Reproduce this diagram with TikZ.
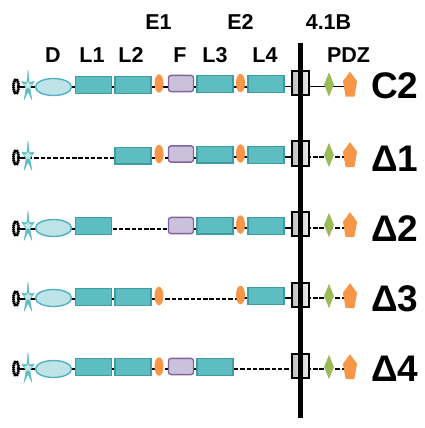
\documentclass[tikz,border=0pt]{standalone}
\usepackage{fontspec}
\setmainfont{Liberation Sans}
\usetikzlibrary{shapes.geometric}
\pgfdeclarelayer{bg}
\pgfsetlayers{bg,main}
\definecolor{teal1}{HTML}{5DBDC1}
\definecolor{teal2}{HTML}{3E9CA3}
\definecolor{oval}{HTML}{BEE4E8}
\definecolor{ovalb}{HTML}{4FB0C6}
\definecolor{orng}{HTML}{F79646}
\definecolor{purp}{HTML}{CCC1DA}
\definecolor{purpb}{HTML}{8064A2}
\definecolor{grn}{HTML}{9BBB59}
\newcommand{\cn}[4]{\begin{pgfonlayer}{bg}\draw[#1] (#2 |- #4) -- (#3 |- #4);\end{pgfonlayer}}
\tikzset{
 x=1pt,y=-1pt,
 lnk/.style={line width=1.5pt,black},
 dsh/.style={line width=1.5pt,black,dash pattern=on 4.4pt off 1.9pt},
 lbl/.style={font=\bfseries\fontsize{21.5}{22}\selectfont,inner sep=0pt,anchor=base},
 rowlbl/.style={font=\bfseries\fontsize{37}{37}\selectfont,inner sep=0pt,anchor=base west},
 gear/.style={ellipse,draw=black,line width=3pt,dash pattern=on 1.3pt off .7pt,fill=white,minimum width=5pt,minimum height=14pt,inner sep=0pt,postaction={draw,solid,line width=1.3pt}},
 spike/.style={star,star points=5,star point ratio=3.2,fill=teal1,draw=teal1,line width=.4pt,minimum size=26pt,inner sep=0pt,xscale=.5,yscale=1.25,transform shape},
 spikein/.style={star,star points=5,star point ratio=2,fill=teal1!35!white,minimum size=9pt,inner sep=0pt},
 dom/.style={ellipse,draw=ovalb,line width=1.4pt,fill=oval,minimum width=36pt,minimum height=17pt,inner sep=0pt},
 lrep/.style={rectangle,draw=teal2,line width=1.4pt,fill=teal1,minimum width=36pt,minimum height=16.6pt,inner sep=0pt},
 egf/.style={ellipse,fill=orng,minimum width=9pt,minimum height=18.5pt,inner sep=0pt},
 fn/.style={rectangle,rounded corners=2.5pt,draw=purpb,line width=1.4pt,fill=purp,minimum width=25pt,minimum height=16.2pt,inner sep=0pt},
 tm/.style={rectangle,draw=black,line width=1.7pt,left color=gray!50,right color=gray!15,minimum width=17.5pt,minimum height=24.5pt,inner sep=0pt},
 dia/.style={diamond,fill=grn,minimum width=10pt,minimum height=24.5pt,inner sep=0pt},
 pent/.style={regular polygon,regular polygon sides=5,fill=orng,minimum size=24pt,inner sep=0pt,xscale=.62,yscale=1.15,transform shape},
}
\begin{document}
\begin{tikzpicture}
\useasboundingbox (0,0) rectangle (425,428);
% headers
\node[lbl] (hE1) at (158.5,30) {E1};
\node[lbl] (hE2) at (240.5,30) {E2};
\node[lbl] (hB) at (328.5,30) {4.1B};
\node[lbl] (hD) at (53,62.5) {D};
\node[lbl] (hL1) at (92,62.5) {L1};
\node[lbl] (hL2) at (131,62.5) {L2};
\node[lbl] (hF) at (180,62.5) {F};
\node[lbl] (hL3) at (215,62.5) {L3};
\node[lbl] (hL4) at (265,62.5) {L4};
\node[lbl] (hP) at (348.5,62.5) {PDZ};
% common parts of every row
\foreach \r/\y/\z/\q/\m/\b/\t in {a/87/86.5/84.5/83/98/C2,b/158/157/155/153.5/171.5/\char"0394 1,c/229/228/225/224/241.5/\char"0394 2,d/299/298/296/295/311.5/\char"0394 3,e/369/369/367/366/381.5/\char"0394 4}{
 \coordinate (\r y) at (0,\y);
 \coordinate (\r z) at (0,\z);
 \node[gear] (\r g) at (16,\y-0.5) {};
 \node[spike] (\r s) at (28,\q+2) {};
 \node[spikein] (\r i) at (28,\q+1) {};
 \node[tm] (\r t) at (300.5,\m) {};
 \node[dia] (\r k) at (329,\q) {};
 \node[pent] (\r p) at (350,\q+1) {};
 \node[rowlbl] (\r l) at (371,\b) {\t};
 \cn{lnk}{\r g}{\r s}{\r y}
}
% C2
\node[dom] (ad) at (53.5,87) {};
\node[lrep] (a1) at (93.7,85) {};
\node[lrep] (a2) at (133,85) {};
\node[egf] (ae1) at (159,83.5) {};
\node[fn] (af) at (181,83.5) {};
\node[lrep] (a3) at (215,84) {};
\node[egf] (ae2) at (240.5,83) {};
\node[lrep] (a4) at (266,84) {};
\cn{lnk}{as}{ad}{ay} \cn{lnk}{ad}{a1}{ay} \cn{lnk}{a1}{a2}{ay} \cn{lnk}{a2}{ae1}{ay}
\cn{lnk}{ae1}{af}{ay} \cn{lnk}{af}{a3}{ay} \cn{lnk}{a3}{ae2}{ay} \cn{lnk}{ae2}{a4}{ay}
\cn{lnk}{a4}{at}{az} \cn{lnk}{at}{ak}{az} \cn{lnk}{ak}{ap}{az}
% Delta 1
\node[lrep] (b2) at (133,155.5) {};
\node[egf] (be1) at (159,154) {};
\node[fn] (bf) at (181,154) {};
\node[lrep] (b3) at (215,154.5) {};
\node[egf] (be2) at (240.5,153.5) {};
\node[lrep] (b4) at (266,155) {};
\cn{dsh}{bs}{b2}{by} \cn{lnk}{b2}{be1}{by} \cn{dsh}{be1}{bf}{by} \cn{lnk}{bf}{b3}{by}
\cn{lnk}{b3}{be2}{bz} \cn{lnk}{be2}{b4}{bz} \cn{lnk}{b4}{bt}{bz}
\cn{dsh}{bt}{bk}{bz} \cn{dsh}{bk}{bp}{bz}
% Delta 2
\node[dom] (cd) at (53.5,228) {};
\node[lrep] (c1) at (93.7,226) {};
\node[fn] (cf) at (181,225.5) {};
\node[lrep] (c3) at (215,225.5) {};
\node[egf] (ce2) at (240.5,224.5) {};
\node[lrep] (c4) at (266,226) {};
\cn{lnk}{cs}{cd}{cy} \cn{lnk}{cd}{c1}{cy} \cn{dsh}{c1}{cf}{cy} \cn{lnk}{cf}{c3}{cy}
\cn{lnk}{c3}{ce2}{cz} \cn{lnk}{ce2}{c4}{cz} \cn{lnk}{c4}{ct}{cz}
\cn{dsh}{ct}{ck}{cz} \cn{dsh}{ck}{cp}{cz}
% Delta 3
\node[dom] (dd) at (53.5,298) {};
\node[lrep] (d1) at (93.7,297) {};
\node[lrep] (d2) at (133,297) {};
\node[egf] (de1) at (159,296) {};
\node[egf] (de2) at (240.5,295) {};
\node[lrep] (d4) at (266,296) {};
\cn{lnk}{ds}{dd}{dy} \cn{lnk}{dd}{d1}{dy} \cn{lnk}{d1}{d2}{dy} \cn{lnk}{d2}{de1}{dy}
\cn{dsh}{de1}{de2}{dy} \cn{lnk}{de2}{d4}{dz} \cn{lnk}{d4}{dt}{dz}
\cn{dsh}{dt}{dk}{dz} \cn{dsh}{dk}{dp}{dz}
% Delta 4
\node[dom] (ed) at (53.5,369) {};
\node[lrep] (e1) at (93.7,367) {};
\node[lrep] (e2) at (133,367) {};
\node[egf] (ee1) at (159,366.5) {};
\node[fn] (ef) at (181,366.5) {};
\node[lrep] (e3) at (215,367) {};
\cn{lnk}{es}{ed}{ey} \cn{lnk}{ed}{e1}{ey} \cn{lnk}{e1}{e2}{ey} \cn{lnk}{e2}{ee1}{ey}
\cn{dsh}{ee1}{ef}{ey} \cn{lnk}{ef}{e3}{ey} \cn{dsh}{e3}{et}{ey}
\cn{dsh}{et}{ek}{ez} \cn{dsh}{ek}{ep}{ez}
% membrane
\coordinate (mt) at (300.5,43);
\coordinate (mb) at (300.5,418);
\draw[line width=5pt,black] (mt)--(mb);
\end{tikzpicture}
\end{document}
